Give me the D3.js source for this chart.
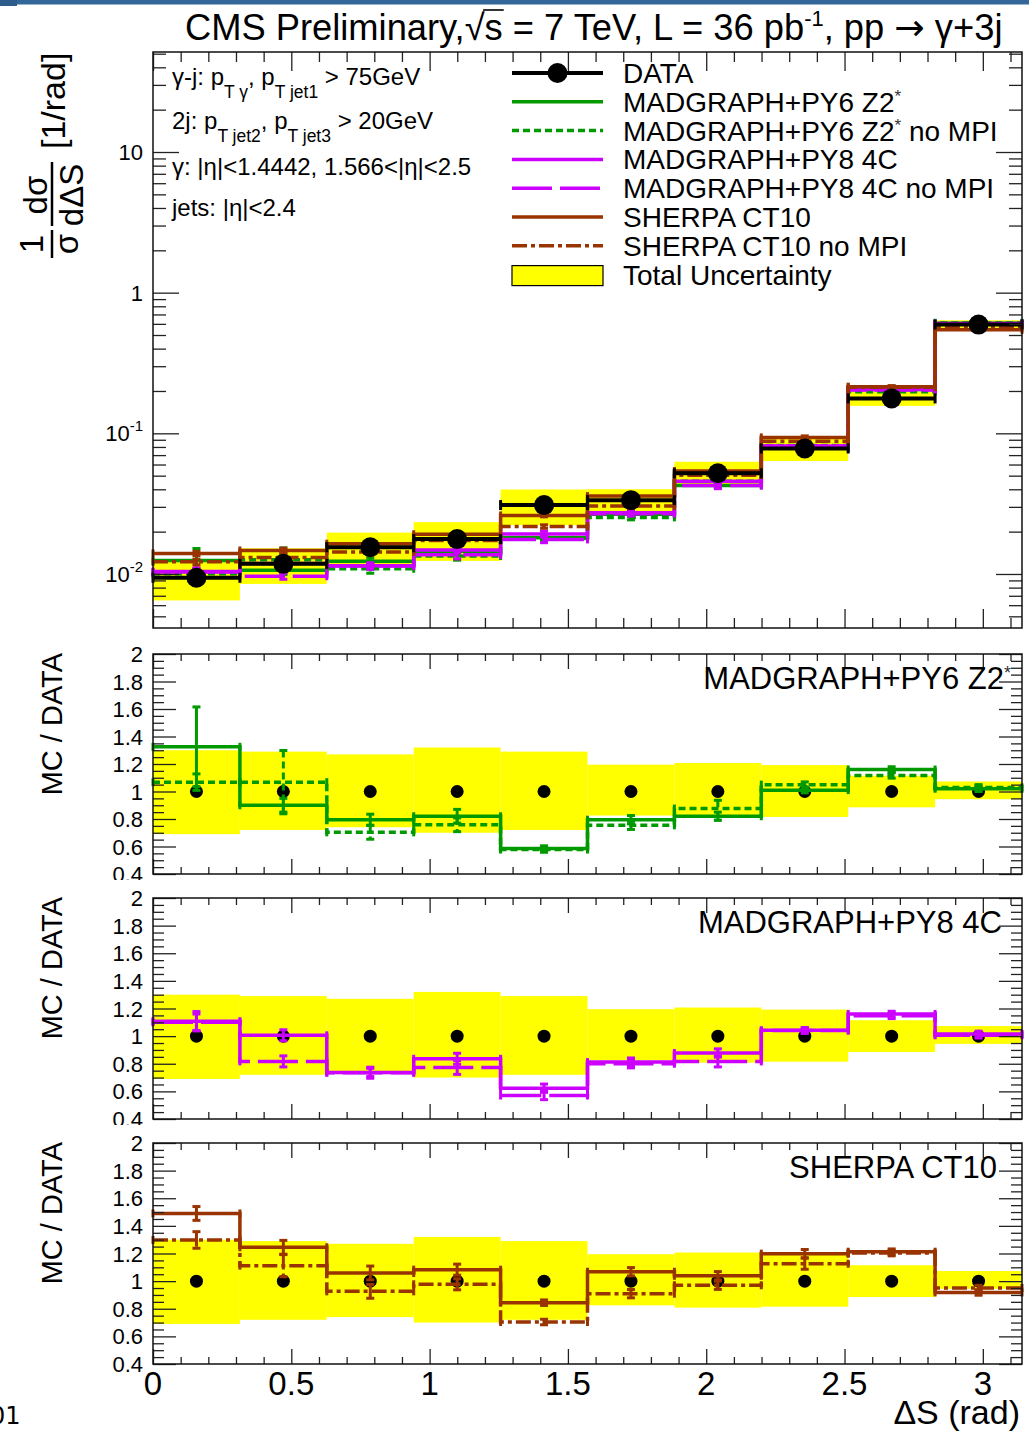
<!DOCTYPE html>
<html>
<head>
<meta charset="utf-8">
<title>CMS gamma+3j Delta S</title>
<script src="https://cdn.jsdelivr.net/npm/d3@7/dist/d3.min.js"></script>
<style>
  body { margin: 0; background: #fff; }
  svg { display: block; }
  text { font-family: "Liberation Sans", Arial, Helvetica, sans-serif; fill: #000; }
</style>
</head>
<body>
<svg id="chart"></svg>
<script>
// bin edges in Delta S (rad), 10 bins of pi/10
const binEdges = [0, 0.3142, 0.6283, 0.9425, 1.2566, 1.5708, 1.8850, 2.1991, 2.5133, 2.8274, 3.1416];

// measured 1/sigma dsigma/dDeltaS and total uncertainty (relative)
const dataValues = [0.0094, 0.0118, 0.0155, 0.0177, 0.0309, 0.0335, 0.052, 0.078, 0.177, 0.593];
const uncUp   = [0.30, 0.29, 0.27, 0.32, 0.29, 0.195, 0.207, 0.192, 0.115, 0.073];
const uncDown = [0.31, 0.28, 0.26, 0.30, 0.28, 0.175, 0.192, 0.185, 0.115, 0.056];

// MC / DATA ratios
const py6Ratio       = [1.325, 0.90, 0.795, 0.82, 0.585, 0.795, 0.82, 1.01, 1.16, 1.02];
const py6Err         = [0.29, 0.05, 0.04, 0.05, 0.02, 0.03, 0.03, 0.02, 0.02, 0.02];
const py6NoMpiRatio  = [1.068, 1.068, 0.703, 0.758, 0.578, 0.754, 0.876, 1.05, 1.117, 1.03];
const py6NoMpiErr    = [0.06, 0.23, 0.05, 0.05, 0.02, 0.03, 0.06, 0.02, 0.02, 0.02];
const py8Ratio       = [1.108, 1.006, 0.737, 0.836, 0.623, 0.812, 0.878, 1.042, 1.16, 1.016];
const py8Err         = [0.07, 0.04, 0.03, 0.04, 0.03, 0.03, 0.03, 0.02, 0.02, 0.02];
const py8NoMpiRatio  = [1.10, 0.817, 0.735, 0.773, 0.57, 0.80, 0.817, 1.04, 1.147, 1.006];
const py8NoMpiErr    = [0.06, 0.04, 0.04, 0.05, 0.03, 0.03, 0.04, 0.02, 0.02, 0.02];
const sherpaRatio      = [1.49, 1.245, 1.059, 1.083, 0.844, 1.068, 1.039, 1.199, 1.213, 0.918];
const sherpaErr        = [0.05, 0.05, 0.05, 0.04, 0.02, 0.03, 0.03, 0.03, 0.02, 0.02];
const sherpaNoMpiRatio = [1.298, 1.112, 0.926, 0.977, 0.704, 0.909, 0.97, 1.126, 1.203, 0.95];
const sherpaNoMpiErr   = [0.06, 0.08, 0.05, 0.04, 0.02, 0.03, 0.03, 0.04, 0.02, 0.02];

// ticks and labels
const xMajorTicks = [0, 0.5, 1, 1.5, 2, 2.5, 3];
const xTickLabels = ['0', '0.5', '1', '1.5', '2', '2.5', '3'];
const yTopMajor = [0.01, 0.1, 1, 10];
const yTopLabels = [['10', '-2'], ['10', '-1'], ['1', ''], ['10', '']];
const ratioMajor = [0.4, 0.6, 0.8, 1, 1.2, 1.4, 1.6, 1.8, 2];
const ratioLabels = ['0.4', '0.6', '0.8', '1', '1.2', '1.4', '1.6', '1.8', '2'];

const legendNames = ['DATA', 'MADGRAPH+PY6 Z2*', 'MADGRAPH+PY6 Z2* no MPI', 'MADGRAPH+PY8 4C',
  'MADGRAPH+PY8 4C no MPI', 'SHERPA CT10', 'SHERPA CT10 no MPI', 'Total Uncertainty'];
const panelNames = ['MADGRAPH+PY6 Z2*', 'MADGRAPH+PY8 4C', 'SHERPA CT10'];

const GREEN = '#009a00', MAGENTA = '#cc00ff', BROWN = '#993300', YELLOW = '#ffff00';

const W = 1029, H = 1432;
const xLeft = 153, xRight = 1022;
const svg = d3.select('#chart').attr('width', W).attr('height', H);

const x = d3.scaleLinear().domain([0, Math.PI]).range([xLeft, xRight]);
const xMinorTicks = d3.range(0, 3.15, 0.1).filter(v => Math.abs(v * 2 - Math.round(v * 2)) > 0.01);

// header stripe
svg.append('rect').attr('x', 0).attr('y', 0).attr('width', W).attr('height', 4.5).attr('fill', '#336699');
svg.append('rect').attr('x', 0).attr('y', 0).attr('width', 17).attr('height', 6).attr('fill', '#2d5c8c');

function drawTicks(g, y0, y1, yScale, yMaj, yMin, yMajLen, yMinLen, xMajLen, xMinLen) {
  const ax = g.append('g');
  const add = (axis, tx, ty) => ax.append('g').attr('transform', `translate(${tx},${ty})`)
    .call(axis).call(s => s.select('.domain').remove());
  const none = () => '';
  add(d3.axisLeft(yScale).tickValues(yMaj).tickSize(-yMajLen).tickFormat(none), xLeft, 0);
  add(d3.axisLeft(yScale).tickValues(yMin).tickSize(-yMinLen).tickFormat(none), xLeft, 0);
  add(d3.axisRight(yScale).tickValues(yMaj).tickSize(-yMajLen).tickFormat(none), xRight, 0);
  add(d3.axisRight(yScale).tickValues(yMin).tickSize(-yMinLen).tickFormat(none), xRight, 0);
  add(d3.axisBottom(x).tickValues(xMajorTicks).tickSize(-xMajLen).tickFormat(none), 0, y1);
  add(d3.axisBottom(x).tickValues(xMinorTicks).tickSize(-xMinLen).tickFormat(none), 0, y1);
  add(d3.axisTop(x).tickValues(xMajorTicks).tickSize(-xMajLen).tickFormat(none), 0, y0);
  add(d3.axisTop(x).tickValues(xMinorTicks).tickSize(-xMinLen).tickFormat(none), 0, y0);
  ax.selectAll('line').attr('stroke', '#222').attr('stroke-width', 1.3);
  g.append('rect').attr('x', xLeft).attr('y', y0).attr('width', xRight - xLeft).attr('height', y1 - y0)
    .attr('fill', 'none').attr('stroke', '#111').attr('stroke-width', 1.5);
}

function drawHist(g, yScale, vals, lo, hi, color, dash) {
  const h = g.append('g');
  const pts = [];
  vals.forEach((v, i) => pts.push([x(binEdges[i]), yScale(v)], [x(binEdges[i + 1]), yScale(v)]));
  h.append('path').attr('d', d3.line()(pts)).attr('fill', 'none').attr('stroke', color)
    .attr('stroke-width', 3.5).attr('stroke-dasharray', dash);
  vals.forEach((v, i) => {
    const cx = x((binEdges[i] + binEdges[i + 1]) / 2);
    const ya = yScale(hi[i]), yb = yScale(lo[i]);
    h.append('line').attr('x1', cx).attr('x2', cx).attr('y1', ya).attr('y2', yb)
      .attr('stroke', color).attr('stroke-width', 3).attr('stroke-dasharray', dash);
    [ya, yb].forEach(yy => h.append('line').attr('x1', cx - 4).attr('x2', cx + 4).attr('y1', yy).attr('y2', yy)
      .attr('stroke', color).attr('stroke-width', 3));
    [x(binEdges[i]), x(binEdges[i + 1])].forEach(xe => h.append('line').attr('x1', xe).attr('x2', xe)
      .attr('y1', yScale(v) - 4).attr('y2', yScale(v) + 4).attr('stroke', color).attr('stroke-width', 3));
  });
}

function starText(sel, name, supSize) {
  const parts = name.split('*');
  sel.append('tspan').text(parts[0]);
  if (parts.length > 1) {
    sel.append('tspan').attr('dy', -10).attr('font-size', supSize).attr('fill', '#333').text('*');
    sel.append('tspan').attr('dy', 10).text(parts[1]);
  }
}

const mcSeries = [
  {ratio: py6Ratio, err: py6Err, color: GREEN, dash: null},
  {ratio: py6NoMpiRatio, err: py6NoMpiErr, color: GREEN, dash: '7,4'},
  {ratio: py8Ratio, err: py8Err, color: MAGENTA, dash: null},
  {ratio: py8NoMpiRatio, err: py8NoMpiErr, color: MAGENTA, dash: '40,8'},
  {ratio: sherpaNoMpiRatio, err: sherpaNoMpiErr, color: BROWN, dash: '15,4,4,4'},
  {ratio: sherpaRatio, err: sherpaErr, color: BROWN, dash: null}
];

// ---------------- top pad ----------------
const topY0 = 52, topY1 = 628;
const yTop = d3.scaleLog().domain([0.00413, 51.4]).range([topY1, topY0]);
const gTop = svg.append('g');

gTop.selectAll('rect.band').data(dataValues).join('rect').attr('class', 'band')
  .attr('x', (d, i) => x(binEdges[i]))
  .attr('width', (d, i) => x(binEdges[i + 1]) - x(binEdges[i]))
  .attr('y', (d, i) => yTop(d * (1 + uncUp[i])))
  .attr('height', (d, i) => yTop(d * (1 - uncDown[i])) - yTop(d * (1 + uncUp[i])))
  .attr('fill', YELLOW);

mcSeries.forEach(s => {
  const vals = s.ratio.map((r, i) => r * dataValues[i]);
  const lo = s.ratio.map((r, i) => (r - s.err[i]) * dataValues[i]);
  const hi = s.ratio.map((r, i) => (r + s.err[i]) * dataValues[i]);
  drawHist(gTop, yTop, vals, lo, hi, s.color, s.dash);
});

dataValues.forEach((v, i) => {
  const x0 = x(binEdges[i]), x1 = x(binEdges[i + 1]), yy = yTop(v);
  gTop.append('line').attr('x1', x0).attr('x2', x1).attr('y1', yy).attr('y2', yy)
    .attr('stroke', '#000').attr('stroke-width', 4);
  [x0, x1].forEach(xe => gTop.append('line').attr('x1', xe).attr('x2', xe).attr('y1', yy - 5).attr('y2', yy + 5)
    .attr('stroke', '#000').attr('stroke-width', 3));
  gTop.append('circle').attr('cx', x((binEdges[i] + binEdges[i + 1]) / 2)).attr('cy', yy).attr('r', 10).attr('fill', '#000');
});

const yTopMinor = [];
[-3, -2, -1, 0, 1].forEach(d => d3.range(2, 10).forEach(k => {
  const v = k * Math.pow(10, d);
  if (v > 0.00413 && v < 51.4) yTopMinor.push(v);
}));
drawTicks(gTop, topY0, topY1, yTop, yTopMajor, yTopMinor, 26, 13, 19, 10);

yTopMajor.forEach((v, i) => {
  const t = gTop.append('text').attr('x', 143).attr('y', yTop(v) + 8).attr('text-anchor', 'end').attr('font-size', 22);
  t.append('tspan').text(yTopLabels[i][0]);
  if (yTopLabels[i][1]) t.append('tspan').attr('dy', -10).attr('font-size', 15).text(yTopLabels[i][1]);
});

// y title: 1/sigma dsigma/dDeltaS [1/rad]
const yt = svg.append('g').attr('transform', 'translate(52,262) rotate(-90)').attr('font-size', 33);
yt.append('text').attr('x', 18).attr('y', -9).attr('text-anchor', 'middle').text('1');
yt.append('line').attr('x1', 4).attr('x2', 32).attr('y1', 0).attr('y2', 0).attr('stroke', '#000').attr('stroke-width', 2.5);
yt.append('text').attr('x', 18).attr('y', 26).attr('text-anchor', 'middle').text('σ');
yt.append('text').attr('x', 67).attr('y', -5).attr('text-anchor', 'middle').text('dσ');
yt.append('line').attr('x1', 36).attr('x2', 100).attr('y1', 0).attr('y2', 0).attr('stroke', '#000').attr('stroke-width', 2.5);
yt.append('text').attr('x', 67).attr('y', 31).attr('text-anchor', 'middle').text('dΔS');
yt.append('text').attr('x', 113).attr('y', 13).attr('font-size', 34).text('[1/rad]');

// title
const title = svg.append('text').attr('x', 185).attr('y', 40).attr('font-size', 36.3);
title.append('tspan').text('CMS Preliminary,');
title.append('tspan').style('font-family', '"DejaVu Sans", sans-serif').attr('font-weight', 200).text('√');
title.append('tspan').text('s');
title.append('tspan').text(' = 7 TeV, L = 36 pb');
title.append('tspan').attr('dy', -14).attr('font-size', 22).text('-1');
title.append('tspan').attr('dy', 14).text(', pp ');
title.append('tspan').style('font-family', '"DejaVu Sans", sans-serif').text('→');
title.append('tspan').text(' γ+3j');
{
  const n = title.node();
  const iRoot = n.textContent.indexOf('√');
  const rb = n.getExtentOfChar(iRoot), sb = n.getExtentOfChar(iRoot + 1);
  svg.append('line').attr('x1', rb.x + rb.width - 1.5).attr('x2', sb.x + sb.width + 1)
    .attr('y1', rb.y + 4).attr('y2', rb.y + 4).attr('stroke', '#000').attr('stroke-width', 1.6);
}

// selection text
function multiText(yBase, segs) {
  const t = svg.append('text').attr('x', 172).attr('y', yBase).attr('font-size', 24);
  let sub = false;
  segs.forEach(s => {
    const isSub = s[1] === 'sub';
    const ts = t.append('tspan').text(s[0]);
    if (isSub && !sub) ts.attr('dy', 13).attr('font-size', 17.5);
    else if (isSub) ts.attr('font-size', 17.5);
    else if (sub) ts.attr('dy', -13);
    sub = isSub;
  });
}
multiText(85, [['γ-j: p'], ['T γ', 'sub'], [', p'], ['T jet1', 'sub'], [' > 75GeV']]);
multiText(129, [['2j:  p'], ['T jet2', 'sub'], [', p'], ['T jet3', 'sub'], [' > 20GeV']]);
multiText(175, [['γ: |η|<1.4442, 1.566<|η|<2.5']]);
multiText(216, [['jets: |η|<2.4']]);

// legend
const legX0 = 512, legX1 = 603, legTextX = 623;
legendNames.forEach((name, i) => {
  const base = 83 + i * 28.8, ly = base - 10;
  const g = svg.append('g');
  if (i === 0) {
    g.append('line').attr('x1', legX0).attr('x2', legX1).attr('y1', ly).attr('y2', ly).attr('stroke', '#000').attr('stroke-width', 4);
    g.append('circle').attr('cx', (legX0 + legX1) / 2).attr('cy', ly).attr('r', 10).attr('fill', '#000');
  } else if (i === legendNames.length - 1) {
    g.append('rect').attr('x', legX0).attr('y', base - 19).attr('width', legX1 - legX0).attr('height', 20)
      .attr('fill', YELLOW).attr('stroke', '#000').attr('stroke-width', 1.2);
  } else {
    const s = mcSeries[[0, 1, 2, 3, 5, 4][i - 1]];
    g.append('line').attr('x1', legX0).attr('x2', legX1).attr('y1', ly).attr('y2', ly)
      .attr('stroke', s.color).attr('stroke-width', 3.5).attr('stroke-dasharray', s.dash);
  }
  const t = g.append('text').attr('x', legTextX).attr('y', base).attr('font-size', 28);
  starText(t, name, 17);
});

// ---------------- ratio pads ----------------
const ratioPads = [
  {y0: 654, y1: 874, name: panelNames[0], nameX: 1011, series: [mcSeries[1], mcSeries[0]]},
  {y0: 898, y1: 1119, name: panelNames[1], nameX: 1002, series: [mcSeries[3], mcSeries[2]]},
  {y0: 1143, y1: 1364, name: panelNames[2], nameX: 997, series: [mcSeries[4], mcSeries[5]]}
];
const ratioMinor = d3.range(0.4, 2.001, 0.05).filter(v => Math.abs(v * 5 - Math.round(v * 5)) > 0.01);

ratioPads.forEach((p, k) => {
  const g = svg.append('g');
  g.append('rect').attr('x', 0).attr('y', p.y0 - 18).attr('width', W).attr('height', p.y1 - p.y0 + 18).attr('fill', '#fff');
  const y = d3.scaleLinear().domain([0.4, 2]).range([p.y1, p.y0]);

  g.selectAll('rect.band').data(dataValues).join('rect').attr('class', 'band')
    .attr('x', (d, i) => x(binEdges[i]))
    .attr('width', (d, i) => x(binEdges[i + 1]) - x(binEdges[i]))
    .attr('y', (d, i) => y(1 + uncUp[i]))
    .attr('height', (d, i) => y(1 - uncDown[i]) - y(1 + uncUp[i]))
    .attr('fill', YELLOW);

  dataValues.forEach((v, i) => g.append('circle').attr('cx', x((binEdges[i] + binEdges[i + 1]) / 2))
    .attr('cy', y(1)).attr('r', 6.5).attr('fill', '#000'));

  p.series.forEach(s => drawHist(g, y, s.ratio, s.ratio.map((r, i) => r - s.err[i]),
    s.ratio.map((r, i) => r + s.err[i]), s.color, s.dash));

  drawTicks(g, p.y0, p.y1, y, ratioMajor, ratioMinor, 23, 11, 15, 7);

  ratioMajor.forEach((v, i) => g.append('text').attr('x', 143).attr('y', y(v) + 8)
    .attr('text-anchor', 'end').attr('font-size', 22).text(ratioLabels[i]));

  g.append('text').attr('transform', `translate(62,${p.y0 - 1}) rotate(-90)`).attr('text-anchor', 'end')
    .attr('font-size', 29).text('MC / DATA');

  const nt = g.append('text').attr('x', p.nameX).attr('y', p.y0 + 35).attr('text-anchor', 'end').attr('font-size', 31);
  starText(nt, p.name, 18);

  if (k === ratioPads.length - 1) {
    xMajorTicks.forEach((v, i) => g.append('text').attr('x', x(v)).attr('y', p.y1 + 31)
      .attr('text-anchor', 'middle').attr('font-size', 33).text(xTickLabels[i]));
    g.append('text').attr('x', 1020).attr('y', 1424).attr('text-anchor', 'end').attr('font-size', 34).text('ΔS (rad)');
  }
});

// page number fragment at the bottom-left edge
svg.append('text').attr('x', -10).attr('y', 1424).attr('font-size', 24)
  .style('font-family', '"DejaVu Sans", sans-serif').attr('fill', '#222').text('01');
</script>
</body>
</html>
